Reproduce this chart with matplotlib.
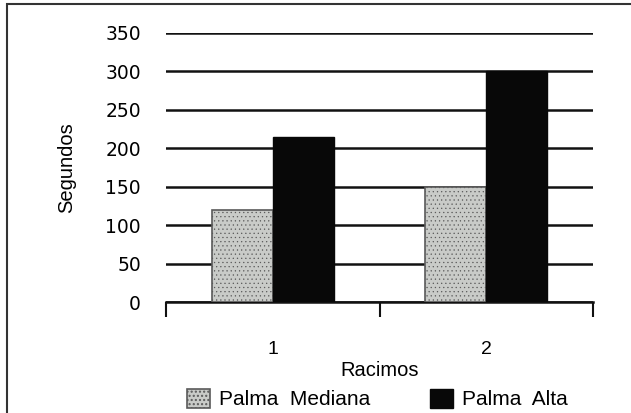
import matplotlib
matplotlib.use("Agg")
import matplotlib.pyplot as plt
import numpy as np
from matplotlib.patches import Rectangle

plt.rcParams['font.family'] = ['Liberation Sans', 'DejaVu Sans']
plt.rcParams['hatch.color'] = "#8a8a8a"

categories = ["1", "2"]
series_names = ["Palma  Mediana", "Palma  Alta"]
mediana = [120, 149]
alta = [215, 300]
yticks = [0, 50, 100, 150, 200, 250, 300, 350]

fig = plt.figure(figsize=(6.31, 4.13), dpi=100)
ax = fig.add_axes([166/631, 1-302/413, (593-166)/631, (302-33)/413])

x = np.arange(len(categories))
w = 0.285
b1 = ax.bar(x - w/2, mediana, w, color="#c9cbc8", edgecolor="#5a5a5a",
            linewidth=1.2, hatch="....", label=series_names[0], zorder=3)
for p in b1:
    p.set_hatch_linewidth(0.4)
b2 = ax.bar(x + w/2, alta, w, color="#080808", edgecolor="#080808",
            linewidth=1.0, label=series_names[1], zorder=3)

ax.set_xlim(-0.5, 1.5)
ax.set_ylim(0, 350)
ax.set_yticks(yticks)
ax.set_yticklabels([str(v) for v in yticks], fontsize=13.5,
                   family=['DejaVu Sans'])
ax.tick_params(axis='y', length=0, pad=18)
ax.yaxis.grid(True, color="#111111", linewidth=1.8, zorder=0)
ax.set_axisbelow(True)

# category ticks on group boundaries, labels at group centres
ax.set_xticks([-0.5, 0.5, 1.5])
ax.set_xticklabels([])
ax.set_xticks(x, minor=True)
ax.set_xticklabels(categories, minor=True, fontsize=14)
ax.tick_params(axis='x', which='major', direction='out', length=11, width=1.5, color="#111111")
ax.tick_params(axis='x', which='minor', length=0, pad=28)

for s in ["left", "right", "top"]:
    ax.spines[s].set_visible(False)
ax.spines["bottom"].set_linewidth(1.8)
ax.spines["bottom"].set_color("#111111")

ax.set_ylabel("Segundos", fontsize=14.5, labelpad=21)
ax.set_xlabel("Racimos", fontsize=14.5, labelpad=2)

leg = fig.legend(handles=[b1, b2], labels=series_names, loc="center",
                 bbox_to_anchor=(0.598, 1-399/413), ncol=2, frameon=False,
                 fontsize=15, handlelength=1.1, handleheight=1.05,
                 handletextpad=0.4, columnspacing=2.9)

# outer frame
fig.patches.append(Rectangle((7/631, -0.02), 1.05, 1-4/413+0.02,
                             transform=fig.transFigure, fill=False,
                             edgecolor="#333333", linewidth=1.5))

fig.savefig("out.png", dpi=100)
